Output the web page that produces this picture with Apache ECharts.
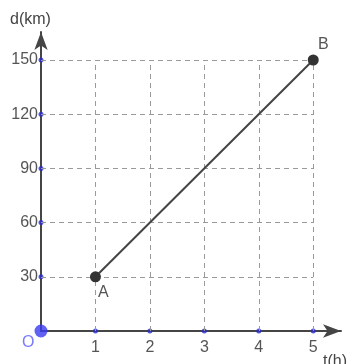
<!DOCTYPE html>
<html>
<head>
<meta charset="utf-8">
<script src="https://cdn.jsdelivr.net/npm/echarts@6/dist/echarts.min.js"></script>
<style>
html, body { margin: 0; padding: 0; background: #fff; }
#chart { width: 347px; height: 364px; }
</style>
</head>
<body>
<div id="chart"></div>
<script>
// Distance-time graph: segment AB from t=1 h to t=5 h
var timeTicks = [1, 2, 3, 4, 5];
var distTicks = [30, 60, 90, 120, 150];
var pointA = [1, 30];
var pointB = [5, 150];
var origin = [0, 0];

var tMax = 5, dMax = 150;

var chart = echarts.init(document.getElementById('chart'));

var gridLines = [];
timeTicks.forEach(function (t) {
  gridLines.push([{ coord: [t, 0] }, { coord: [t, dMax] }]);
});
distTicks.forEach(function (d) {
  gridLines.push([{ coord: [0, d] }, { coord: [tMax, d] }]);
});

var tickDots = timeTicks.map(function (t) { return [t, 0]; })
  .concat(distTicks.map(function (d) { return [0, d]; }));

var labelFont = 'Liberation Sans, Arial, sans-serif';

chart.setOption({
  animation: false,
  grid: { left: 41, right: 6, top: 32, bottom: 33 },
  xAxis: {
    type: 'value', min: 0, max: 5.51,
    axisLine: { show: true, symbol: ['none', 'arrow'], symbolSize: [10, 18],
      lineStyle: { color: '#454545', width: 2 } },
    axisTick: { show: false },
    splitLine: { show: false },
    axisLabel: { customValues: timeTicks, color: '#555', fontSize: 16,
      fontFamily: labelFont, margin: 9 }
  },
  yAxis: {
    type: 'value', min: 0, max: 165.5,
    axisLine: { show: true, symbol: ['none', 'arrow'], symbolSize: [10, 18],
      lineStyle: { color: '#454545', width: 2 } },
    axisTick: { show: false },
    splitLine: { show: false },
    axisLabel: { customValues: distTicks, color: '#555', fontSize: 16,
      fontFamily: labelFont, margin: 3 }
  },
  graphic: [
    { type: 'text', left: 10, top: 12,
      style: { text: 'd(km)', fill: '#444', fontSize: 16, fontFamily: labelFont } },
    { type: 'text', left: 323, top: 354,
      style: { text: 't(h)', fill: '#444', fontSize: 16, fontFamily: labelFont } },
    { type: 'text', left: 22, top: 335,
      style: { text: 'O', fill: '#7a7aff', fontSize: 16, fontFamily: labelFont } }
  ],
  series: [
    {
      type: 'line',
      data: [],
      silent: true,
      markLine: {
        silent: true,
        symbol: ['none', 'none'],
        label: { show: false },
        lineStyle: { color: '#9a9a9a', width: 1, type: [5, 4] },
        data: gridLines
      }
    },
    {
      type: 'scatter',
      data: tickDots,
      symbolSize: 5,
      clip: false,
      itemStyle: { color: '#2b2bd0' },
      z: 4
    },
    {
      type: 'line',
      data: [
        { value: pointA, label: { show: true, formatter: 'A', position: 'bottom', offset: [8, -3] } },
        { value: pointB, label: { show: true, formatter: 'B', position: 'top', offset: [10, 3] } }
      ],
      symbol: 'circle',
      symbolSize: 11,
      clip: false,
      lineStyle: { color: '#444', width: 2 },
      itemStyle: { color: '#333' },
      label: { color: '#555', fontSize: 16, fontFamily: labelFont },
      z: 5
    },
    {
      type: 'scatter',
      data: [origin],
      symbolSize: 13,
      clip: false,
      itemStyle: { color: '#3a3af0' },
      z: 6
    }
  ]
});
</script>
</body>
</html>
